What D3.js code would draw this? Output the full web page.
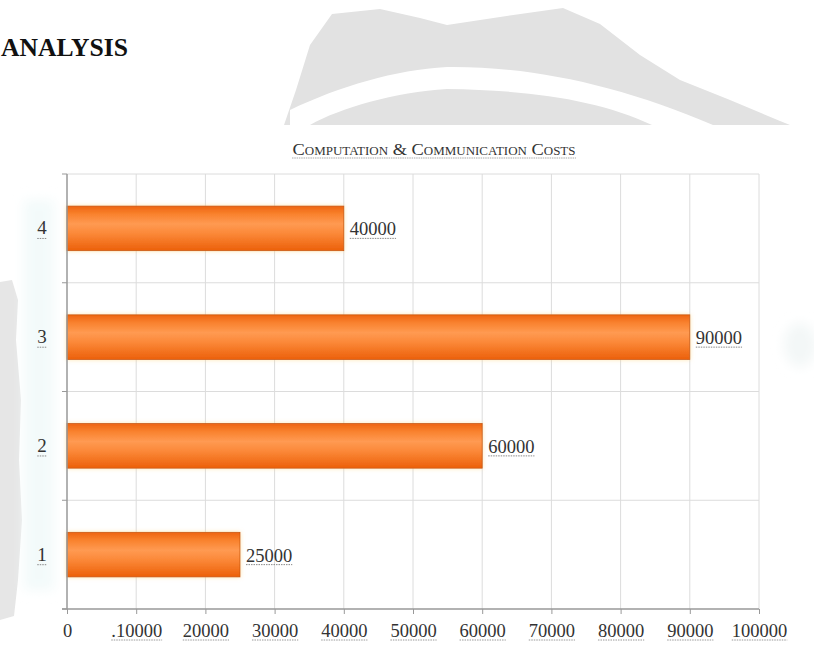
<!DOCTYPE html>
<html>
<head>
<meta charset="utf-8">
<script src="https://cdn.jsdelivr.net/npm/d3@7"></script>
<style>
  html, body { margin: 0; padding: 0; background: #fff; }
  svg { display: block; }
</style>
</head>
<body>
<svg id="chart" width="814" height="655"></svg>
<script>
// ---- data ----
const categories = ["4", "3", "2", "1"];
const values = [40000, 90000, 60000, 25000];
const tickValues = [0, 10000, 20000, 30000, 40000, 50000, 60000, 70000, 80000, 90000, 100000];
const tickLabels = ["0", ".10000", "20000", "30000", "40000", "50000", "60000", "70000", "80000", "90000", "100000"];
const chartTitle = "Computation & Communication Costs";
const headingText = "ANALYSIS";

const svg = d3.select("#chart");
const serif = "'Liberation Serif', 'Times New Roman', serif";

// ---- page background decorations (watermark seal) ----
const defs = svg.append("defs");
const blur = defs.append("filter").attr("id", "soft").attr("x", "-50%").attr("y", "-50%").attr("width", "200%").attr("height", "200%");
blur.append("feGaussianBlur").attr("stdDeviation", 6);

const deco = svg.append("g");
deco.append("path")
  .attr("d", "M284,125 L296,90 L310,45 L332,14 L380,9 L420,18 L447,25 L500,17 L563,8 L600,24 L640,55 L680,80 L730,100 L780,121 L790,125 Z")
  .attr("fill", "#e2e2e2");
deco.append("path")
  .attr("d", "M290,110 C340,86 395,70 447,67 C530,66 620,85 713,125 L652,125 C600,100 530,90 447,89 C395,92 340,108 310,125 L290,125 Z")
  .attr("fill", "#ffffff");
deco.append("path")
  .attr("d", "M0,282 L12,280 L18,300 L16,340 L21,400 L19,460 L22,520 L18,580 L14,616 L0,620 Z")
  .attr("fill", "#e6e6e6");
deco.append("rect").attr("x", 24).attr("y", 200).attr("width", 30).attr("height", 390)
  .attr("fill", "#f3fafa").attr("filter", "url(#soft)");
deco.append("ellipse").attr("cx", 800).attr("cy", 345).attr("rx", 16).attr("ry", 22)
  .attr("fill", "#f3f7f7").attr("filter", "url(#soft)");

// heading (partly cut in the source page)
svg.append("text")
  .attr("x", 128).attr("y", 56)
  .attr("text-anchor", "end")
  .attr("font-family", serif)
  .attr("font-weight", "bold")
  .attr("font-size", 26)
  .attr("fill", "#111")
  .attr("textLength", 127).attr("lengthAdjust", "spacingAndGlyphs")
  .text(headingText);

// ---- scales ----
const x = d3.scaleLinear().domain([0, 100000]).range([67, 759]);
const y = d3.scaleBand().domain(categories).range([174, 609]).paddingInner(0.59).paddingOuter(0.295);
const step = y.step();
const bounds = d3.range(categories.length + 1).map(i => 174 + i * step);

// ---- gradient ----
const grad = defs.append("linearGradient").attr("id", "barGrad")
  .attr("x1", 0).attr("y1", 0).attr("x2", 0).attr("y2", 1);
[["0%", "#ee6410"], ["18%", "#f9822e"], ["40%", "#ff9a52"], ["62%", "#fb8838"], ["100%", "#ec600a"]]
  .forEach(([o, c]) => grad.append("stop").attr("offset", o).attr("stop-color", c));
const glow = defs.append("filter").attr("id", "glow").attr("x", "-5%").attr("y", "-30%").attr("width", "110%").attr("height", "160%");
glow.append("feGaussianBlur").attr("in", "SourceAlpha").attr("stdDeviation", 2).attr("result", "b");
glow.append("feFlood").attr("flood-color", "#ffd27a").attr("flood-opacity", 0.6);
glow.append("feComposite").attr("in2", "b").attr("operator", "in").attr("result", "s");
const m = glow.append("feMerge");
m.append("feMergeNode").attr("in", "s");
m.append("feMergeNode").attr("in", "SourceGraphic");

// chart background
svg.append("rect").attr("x", 60).attr("y", 165).attr("width", 710).attr("height", 450).attr("fill", "#fff");

// ---- grid ----
const grid = svg.append("g");
grid.selectAll("line.v").data(tickValues.slice(1)).join("line")
  .attr("x1", d => x(d)).attr("x2", d => x(d))
  .attr("y1", 174).attr("y2", 609)
  .attr("stroke", "#dcdcdc").attr("stroke-width", 1);
grid.selectAll("line.h").data(bounds.slice(0, -1)).join("line")
  .attr("x1", 67).attr("x2", 759)
  .attr("y1", d => d).attr("y2", d => d)
  .attr("stroke", "#dcdcdc").attr("stroke-width", 1);

// ---- bars ----
const rows = categories.map((c, i) => ({ cat: c, val: values[i] }));
svg.append("g").selectAll("rect").data(rows).join("rect")
  .attr("x", x(0))
  .attr("y", d => y(d.cat))
  .attr("width", d => x(d.val) - x(0))
  .attr("height", y.bandwidth())
  .attr("fill", "url(#barGrad)")
  .attr("stroke", "#c9560c")
  .attr("stroke-width", 0.8)
  .attr("filter", "url(#glow)");

// helper: dotted underline under a text
function underline(sel, dy, color) {
  sel.each(function () {
    const t = d3.select(this);
    const bb = this.getBBox();
    d3.select(this.parentNode).append("line")
      .attr("x1", bb.x).attr("x2", bb.x + bb.width)
      .attr("y1", +t.attr("y") + dy).attr("y2", +t.attr("y") + dy)
      .attr("stroke", color).attr("stroke-width", 1)
      .attr("stroke-dasharray", "1.5,1");
  });
}

// value labels
const vl = svg.append("g");
vl.selectAll("text").data(rows).join("text")
  .attr("x", d => x(d.val) + 6)
  .attr("y", d => y(d.cat) + y.bandwidth() / 2 + 7)
  .attr("font-family", serif).attr("font-size", 18.5).attr("fill", "#333")
  .text(d => d.val)
  .call(underline, 3, "#888");

// ---- axes ----
const xAxis = d3.axisBottom(x).tickValues(tickValues).tickSize(5).tickFormat((d, i) => tickLabels[i]);
const gx = svg.append("g").attr("transform", "translate(0,609)").call(xAxis);
gx.select(".domain").attr("stroke", "#999").attr("stroke-width", 1.5).attr("d", "M62,0H759");
gx.selectAll(".tick line").attr("stroke", "#999");
gx.selectAll(".tick text")
  .attr("y", 28).attr("dy", 0)
  .attr("font-family", serif).attr("font-size", 18.5).attr("fill", "#333")
  .each(function (d, i) {
    if (i === 0) return;
    const bb = this.getBBox();
    d3.select(this.parentNode).append("line")
      .attr("x1", bb.x).attr("x2", bb.x + bb.width)
      .attr("y1", 31).attr("y2", 31)
      .attr("stroke", "#999").attr("stroke-width", 1).attr("stroke-dasharray", "1.5,1");
  });

const yAxis = d3.axisLeft(y).tickSize(0).tickPadding(25);
const gy = svg.append("g").attr("transform", "translate(67,0)").call(yAxis);
gy.select(".domain").attr("stroke", "#999").attr("stroke-width", 1.5).attr("d", "M0,174V609");
gy.selectAll(".tick text")
  .attr("font-family", serif).attr("font-size", 19).attr("fill", "#333")
  .attr("text-anchor", "middle")
  .each(function () {
    const bb = this.getBBox();
    d3.select(this.parentNode).append("line")
      .attr("x1", bb.x).attr("x2", bb.x + bb.width)
      .attr("y1", bb.y + bb.height).attr("y2", bb.y + bb.height)
      .attr("stroke", "#888").attr("stroke-width", 1).attr("stroke-dasharray", "1.5,1");
  });
gy.selectAll("line.bt").data(bounds).join("line")
  .attr("x1", -5).attr("x2", 0)
  .attr("y1", d => d).attr("y2", d => d)
  .attr("stroke", "#999");

// ---- title ----
svg.append("text")
  .attr("x", 434).attr("y", 155)
  .attr("text-anchor", "middle")
  .attr("font-family", serif).attr("font-size", 17)
  .attr("font-variant", "small-caps")
  .attr("fill", "#333")
  .attr("textLength", 283).attr("lengthAdjust", "spacingAndGlyphs")
  .text(chartTitle);
svg.append("line").attr("x1", 292).attr("x2", 576).attr("y1", 158).attr("y2", 158)
  .attr("stroke", "#aaa").attr("stroke-width", 1.2).attr("stroke-dasharray", "1.5,0.8");
</script>
</body>
</html>
